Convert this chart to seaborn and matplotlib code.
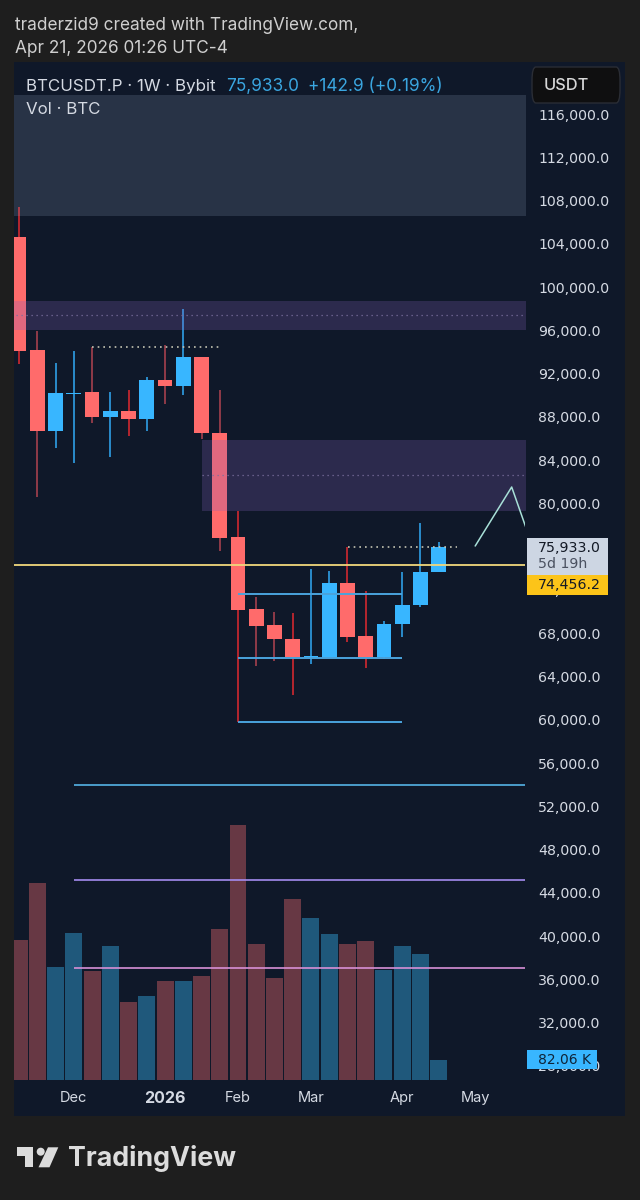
import pandas as pd
import matplotlib
matplotlib.use("Agg")
import matplotlib.pyplot as plt
from matplotlib.patches import Rectangle, Polygon, Circle, FancyBboxPatch
import seaborn as sns

# weekly candles, BTCUSDT.P, oldest first
week = list(range(24))
opens = [104630, 94184, 86696, 90116, 90302, 87991, 88545, 87806, 91411, 90856, 93537, 86511,
         76897, 70242, 68763, 67469, 65804, 65711, 72646, 67746, 65804, 68855, 70612, 73662]
closes = [94092, 86696, 90209, 90209, 87991, 88545, 87806, 91411, 90856, 93537, 86511, 76805,
          70150, 68671, 67469, 65804, 65900, 72646, 67653, 65804, 68855, 70612, 73662, 75933]
highs = [107403, 95940, 92981, 94092, 94461, 90302, 90486, 91687, 94646, 97974, 93537, 90486,
         79301, 71351, 69964, 69872, 73940, 73755, 75973, 71905, 69132, 73662, 78193, 76435]
lows = [92890, 80595, 85125, 83740, 87436, 84293, 86234, 86696, 89192, 90024, 85957, 75602,
        59796, 64971, 65435, 62292, 65157, 65711, 67190, 64788, 65619, 67653, 70427, 73662]
volumes = [574.4, 808.3, 462.3, 600.4, 447.2, 547.1, 317.3, 341.9, 406.2, 406.2, 424.0, 618.2,
           1043.5, 556.7, 417.1, 739.9, 664.7, 596.3, 556.7, 567.6, 451.3, 547.1, 517.0, 82.06]
vol_side = ["down", "down", "up", "up", "down", "up", "down", "up", "down", "up", "down", "down",
            "down", "down", "down", "down", "up", "up", "down", "down", "up", "up", "up", "up"]

price_ticks = list(range(28000, 116001, 4000))
time_ticks = [3, 8, 12, 16, 21, 25]
time_labels = ["Dec", "2026", "Feb", "Mar", "Apr", "May"]

# zones: low, high
zone_top = (106570, 117756)
zone_mid = (96000, 98700)
zone_low = (79300, 85900)
zone_mid_line = 97400
zone_low_line = 82600
level_line = 74310
resist_a = 94470
resist_b = 75970
range_levels = [71600, 65700, 59800]
long_levels = [54000, 45200, 37100]
path_x = [25, 27, 27.77]
path_y = [76066, 81519, 77822]

PANE = "#0f1829"
OUTER = "#1e1e1e"
RED = "#ff6b6b"
BLUE = "#38b6ff"
TXT = "#d5dae3"
NUM_FONT = ["DejaVu Sans"]

sns.set_theme(style="dark", rc={"axes.grid": False})
plt.rcParams["font.family"] = ["Inter", "DejaVu Sans"]

fig = plt.figure(figsize=(6.4, 12), dpi=100, facecolor=OUTER)


def pos(x, y):
    return (x / 640, 1 - y / 1200)


def rect(x0, y0, x1, y1, **kw):
    fig.add_artist(Rectangle(pos(x0, y1), (x1 - x0) / 640, (y1 - y0) / 1200,
                             transform=fig.transFigure, linewidth=0, **kw))


def label(x, y, s, **kw):
    kw.setdefault("va", "center")
    kw.setdefault("zorder", 7)
    fig.text(*pos(x, y), s, **kw)


rect(14, 62, 625, 1116, color=PANE, zorder=-1)

box = [14 / 640, 1 - 1079.5 / 1200, (525 - 14) / 640, (1079.5 - 62) / 1200]
ax_vol = fig.add_axes(box, zorder=1)
ax = fig.add_axes(box, zorder=2)
ax.patch.set_alpha(0)
ax_vol.patch.set_alpha(0)

xmin, xmax = -0.277, 27.73

# volume pane
vol_df = pd.DataFrame({"week": week, "volume": volumes, "side": vol_side})
sns.barplot(data=vol_df, x="week", y="volume", hue="side", dodge=False, native_scale=True,
            palette={"down": "#673844", "up": "#1f587b"}, saturation=1, width=0.93,
            linewidth=0, legend=False, ax=ax_vol)
ax_vol.set_xlim(xmin, xmax)
ax_vol.set_ylim(0, 4175)
ax_vol.set_axis_off()

# candles
df = pd.DataFrame({"week": week, "o": opens, "c": closes, "h": highs, "l": lows})
df["top"] = df[["o", "c"]].max(axis=1)
df["bot"] = df[["o", "c"]].min(axis=1)
df["up"] = df["c"] >= df["o"]
muted = [1, 4, 8, 10, 11, 13, 14]
for _, r in df.iterrows():
    if r["up"]:
        wick = "#2a8ccb"
    elif r["week"] in muted:
        wick = "#8f3a48"
    else:
        wick = "#b5262f"
    ax.vlines(r["week"], r["l"], r["h"], color=wick, linewidth=1.4, zorder=2)
ax.bar(df["week"], df["top"] - df["bot"], bottom=df["bot"], width=0.8, linewidth=0,
       color=[BLUE if u else RED for u in df["up"]], zorder=3)

# zones sit over the candles
ax.fill_between([-1, 29], *zone_top, color="#91a0be", alpha=0.2, linewidth=0, zorder=4)
ax.fill_between([-1, 29], *zone_mid, color="#8460bc", alpha=0.25, linewidth=0, zorder=4)
ax.fill_between([10.03, 29], *zone_low, color="#8460bc", alpha=0.25, linewidth=0, zorder=4)
ax.hlines(zone_mid_line, -1, 29, color="#7a6f9e", linewidth=0.9, linestyle=(0, (1, 3)), zorder=4)
ax.hlines(zone_low_line, 10.03, 29, color="#7a6f9e", linewidth=0.9, linestyle=(0, (1, 3)), zorder=4)

# levels
ax.hlines(level_line, -1, 29, color="#f0d77b", linewidth=1.3, zorder=5)
ax.hlines(resist_a, 4, 10.96, color="#c4c4b2", linewidth=1.2, linestyle=(0, (1, 2.4)), zorder=5)
ax.hlines(resist_b, 18.03, 24, color="#c4c4b2", linewidth=1.2, linestyle=(0, (1, 2.4)), zorder=5)
ax.hlines(range_levels, 12, 21, color="#4aa3dc", linewidth=1.4, zorder=5)
ax.hlines(long_levels[0], 3, 29, color="#55b4e6", linewidth=1.2, zorder=5)
ax.hlines(long_levels[1], 3, 29, color="#a48cf0", linewidth=1.2, zorder=5)
ax.hlines(long_levels[2], 3, 29, color="#d78fd6", linewidth=1.2, zorder=5)
sns.lineplot(x=path_x, y=path_y, color="#a8e0d8", linewidth=1.1, sort=False, errorbar=None, ax=ax, zorder=5)

ax.set_xlim(xmin, xmax)
ax.set_ylim(26749, 120807)
ax.yaxis.tick_right()
ax.set_yticks(price_ticks)
ax.set_yticklabels([f"{p:,.1f}" for p in price_ticks], ha="left", color=TXT, fontsize=10.2, family=NUM_FONT)
ax.set_xticks(time_ticks)
ax.set_xticklabels(time_labels, color=TXT, fontsize=10.5)
ax.get_xticklabels()[1].set_fontweight("bold")
ax.get_xticklabels()[1].set_fontsize(11.5)
ax.tick_params(axis="y", length=0, pad=9.4)
ax.tick_params(axis="x", length=0, pad=8.5)
ax.set_xlabel("")
ax.set_ylabel("")
for s in ax.spines.values():
    s.set_visible(False)

# header text
label(15, 25.5, "traderzid9 created with TradingView.com,", color="#cfcfcf", fontsize=12.4)
label(15, 48.5, "Apr 21, 2026 01:26 UTC-4", color="#cfcfcf", fontsize=12.4)
label(26, 86.5, "BTCUSDT.P · 1W · Bybit", color=TXT, fontsize=12.2)
label(226, 86.5, "75,933.0", color="#3aa6e0", fontsize=12.4)
label(308, 86.5, "+142.9 (+0.19%)", color="#3aa6e0", fontsize=12.4)
label(26, 110, "Vol · BTC", color=TXT, fontsize=12.2)

# price axis tags
fig.add_artist(FancyBboxPatch(pos(532, 103), 88 / 640, 36 / 1200, boxstyle="round,pad=0,rounding_size=0.006",
                              mutation_aspect=1.875, transform=fig.transFigure, facecolor="#0f0f10",
                              edgecolor="#2a2d35", linewidth=1, zorder=6))
label(544, 85, "USDT", color="#d8d8d8", fontsize=11.8, fontweight="medium")
rect(527, 538, 608, 575, color="#cdd6e3", zorder=6)
rect(527, 575, 608, 595, color="#fcc419", zorder=6)
rect(527, 1050, 597, 1069, color=BLUE, zorder=6)
label(538, 548, "75,933.0", color="#141a26", fontsize=10.2, family=NUM_FONT)
label(538, 564, "5d 19h", color="#4a5160", fontsize=10.2, family=NUM_FONT)
label(538, 585, "74,456.2", color="#141a26", fontsize=10.2, family=NUM_FONT)
label(538, 1060, "82.06 K", color="#0f2438", fontsize=10, family=NUM_FONT)

# logo
logo = "#dcdcdc"
fig.add_artist(Polygon([pos(16.7, 1147.3), pos(33.3, 1147.3), pos(33.3, 1167.3), pos(25, 1167.3),
                        pos(25, 1156), pos(16.7, 1156)], transform=fig.transFigure,
                       facecolor=logo, linewidth=0, zorder=6))
fig.add_artist(Polygon([pos(48, 1147.3), pos(58.3, 1147.3), pos(49.5, 1167.3), pos(38.5, 1167.3)],
                       transform=fig.transFigure, facecolor=logo, linewidth=0, zorder=6))
ax_logo = fig.add_axes([0, 0, 1, 1], zorder=3)
ax_logo.set_axis_off()
ax_logo.set_xlim(0, 640)
ax_logo.set_ylim(1200, 0)
ax_logo.add_patch(Circle((40.7, 1151.7), 4, facecolor=logo, linewidth=0))
label(68, 1159, "TradingView", color=logo, fontsize=19.3, fontweight="bold")

fig.savefig("out.png", dpi=100, facecolor=OUTER)
